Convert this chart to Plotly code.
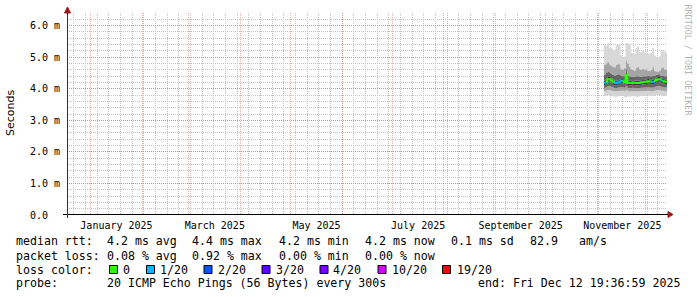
import pandas as pd
import plotly.graph_objects as go

# ---------------- data ----------------
end_time = pd.Timestamp("2025-12-12 19:36:59")
start_time = end_time - pd.Timedelta(days=360)
days = list(pd.date_range("2025-11-05", periods=38, freq="D"))

rtt_max = [5.40, 5.36, 5.44, 5.30, 5.28, 5.24, 5.22, 5.38, 5.40, 5.42, 5.05, 5.00, 5.02, 5.45, 5.44, 5.40, 5.15, 5.12, 5.10,
           5.30, 5.34, 5.18, 5.16, 5.20, 5.15, 5.17, 5.12, 5.10, 5.14, 5.30, 5.05, 5.00, 4.98, 5.02, 5.20, 5.22, 5.18, 5.15]
rtt_p90 = [4.75, 4.80, 4.85, 4.78, 4.72, 4.70, 4.68, 4.75, 4.80, 4.78, 4.62, 4.60, 4.65, 4.90, 4.80, 4.70, 4.62, 4.60, 4.58,
           4.66, 4.70, 4.62, 4.60, 4.64, 4.60, 4.62, 4.58, 4.56, 4.60, 4.68, 4.58, 4.55, 4.55, 4.58, 4.65, 4.68, 4.62, 4.60]
rtt_p75 = [4.45, 4.50, 4.55, 4.52, 4.48, 4.44, 4.42, 4.44, 4.46, 4.46, 4.42, 4.40, 4.40, 4.62, 4.42, 4.40, 4.38, 4.38, 4.37,
           4.40, 4.40, 4.38, 4.38, 4.40, 4.40, 4.40, 4.42, 4.40, 4.40, 4.42, 4.42, 4.44, 4.46, 4.46, 4.42, 4.42, 4.40, 4.40]
rtt_p60 = [4.26, 4.29, 4.37, 4.37, 4.33, 4.29, 4.25, 4.25, 4.27, 4.29, 4.31, 4.30, 4.27, 4.52, 4.26, 4.25, 4.25, 4.27, 4.26,
           4.25, 4.25, 4.26, 4.27, 4.28, 4.29, 4.29, 4.31, 4.30, 4.28, 4.29, 4.32, 4.35, 4.37, 4.37, 4.33, 4.31, 4.30, 4.29]
rtt_med = [4.19, 4.22, 4.30, 4.30, 4.26, 4.22, 4.18, 4.18, 4.20, 4.22, 4.25, 4.24, 4.20, 4.45, 4.19, 4.18, 4.18, 4.20, 4.19,
           4.18, 4.18, 4.19, 4.20, 4.21, 4.22, 4.22, 4.24, 4.23, 4.21, 4.22, 4.25, 4.28, 4.30, 4.30, 4.26, 4.24, 4.23, 4.22]
rtt_p40 = [4.12, 4.15, 4.22, 4.22, 4.19, 4.15, 4.11, 4.11, 4.13, 4.15, 4.18, 4.17, 4.13, 4.30, 4.12, 4.11, 4.11, 4.13, 4.12,
           4.11, 4.11, 4.12, 4.13, 4.14, 4.15, 4.15, 4.17, 4.16, 4.14, 4.15, 4.18, 4.20, 4.22, 4.22, 4.19, 4.17, 4.16, 4.15]
rtt_p25 = [4.03, 4.05, 4.08, 4.08, 4.06, 4.04, 4.02, 4.02, 4.03, 4.04, 4.05, 4.05, 4.03, 4.08, 4.02, 4.02, 4.02, 4.03, 4.02,
           4.02, 4.02, 4.02, 4.03, 4.03, 4.04, 4.04, 4.05, 4.04, 4.03, 4.04, 4.05, 4.07, 4.08, 4.08, 4.06, 4.05, 4.04, 4.04]
rtt_p10 = [3.93, 3.94, 3.96, 3.95, 3.94, 3.93, 3.92, 3.92, 3.93, 3.93, 3.94, 3.94, 3.92, 3.95, 3.92, 3.91, 3.92, 3.92, 3.92,
           3.91, 3.91, 3.92, 3.92, 3.93, 3.93, 3.93, 3.94, 3.93, 3.92, 3.93, 3.94, 3.95, 3.96, 3.95, 3.94, 3.94, 3.93, 3.93]
rtt_min = [3.76, 3.78, 3.80, 3.78, 3.77, 3.76, 3.75, 3.74, 3.76, 3.77, 3.78, 3.78, 3.75, 3.72, 3.76, 3.75, 3.76, 3.77, 3.76,
           3.75, 3.74, 3.76, 3.77, 3.78, 3.77, 3.78, 3.79, 3.78, 3.76, 3.77, 3.78, 3.80, 3.81, 3.80, 3.78, 3.78, 3.77, 3.77]
loss = [1, 0, 0, 0, 0, 0, 1, 1, 1, 1, 1, 0, 0, 0, 0, 0, 0, 0, 0,
        0, 0, 0, 0, 0, 0, 0, 0, 0, 1, 1, 0, 0, 0, 0, 1, 0, 0, 0]

loss_levels = [0, 1, 2, 3, 4, 10, 19]
loss_labels = ["0", "1/20", "2/20", "3/20", "4/20", "10/20", "19/20"]
loss_colors = ["#26ff00", "#00b8ff", "#0059ff", "#5e00ff", "#7e00ff", "#dd00ff", "#ff0000"]

y_ticks = [0, 1, 2, 3, 4, 5, 6]
y_ticktext = ["0.0\u00a0\u00a0", "1.0 m", "2.0 m", "3.0 m", "4.0 m", "5.0 m", "6.0 m"]
month_starts = ["2025-01-01", "2025-02-01", "2025-03-01", "2025-04-01", "2025-05-01", "2025-06-01",
                "2025-07-01", "2025-08-01", "2025-09-01", "2025-10-01", "2025-11-01", "2025-12-01"]
label_dates = ["2025-01-16 12:00", "2025-03-16 12:00", "2025-05-16 12:00",
               "2025-07-16 12:00", "2025-09-16 00:00", "2025-11-16 00:00"]
label_text = ["January 2025", "March 2025", "May 2025", "July 2025", "September 2025", "November 2025"]

rtt_stats = ["4.2 ms avg", "4.4 ms max", "4.2 ms min", "4.2 ms now", "0.1 ms sd", "82.9", "am/s"]
loss_stats = ["0.08 % avg", "0.92 % max", "0.00 % min", "0.00 % now"]
probe_text = "20 ICMP Echo Pings (56 Bytes) every 300s"
end_text = "end: Fri Dec 12 19:36:59 2025"

# ---------------- layout helpers ----------------
W, H = 697, 297
L, R, T, B = 67, 30, 13, 82
PW, PH = W - L - R, H - T - B


def pxx(x):
    return (x - L) / PW


def pxy(y):
    return (T + PH - y) / PH


MONO = "DejaVu Sans Mono"
fig = go.Figure()

xs = days + [end_time]


def ext(a):
    return list(a) + [a[-1]]


bands = [rtt_min, rtt_p10, rtt_p25, rtt_p40, rtt_p60, rtt_p75, rtt_p90, rtt_max]
band_fill = [None, "#d4d4d4", "#a4a4a4", "#666666", "#383838", "#666666", "#a4a4a4", "#d8d8d8"]
for i, (arr, fc) in enumerate(zip(bands, band_fill)):
    fig.add_trace(go.Scatter(x=xs, y=ext(arr), mode="lines", line=dict(width=0, shape="hv"),
                             fill=None if i == 0 else "tonexty", fillcolor=fc,
                             hoverinfo="skip", showlegend=False))

color_of = dict(zip(loss_levels, loss_colors))
med_ext = ext(rtt_med)
n = len(rtt_med)
i = 0
while i < n:
    j = i
    while j + 1 < n and loss[j + 1] == loss[i]:
        j += 1
    fig.add_trace(go.Scatter(x=xs[i:j + 2], y=med_ext[i:j + 2], xaxis="x2", mode="lines",
                             line=dict(color=color_of[loss[i]], width=2, shape="hv"),
                             hoverinfo="skip", showlegend=False))
    i = j + 1

grid_pink = "rgba(220,80,80,0.45)"
grid_gray = "#c4c4c4"
DOT = "1px,1px"

fig.update_layout(
    width=W, height=H, autosize=False,
    margin=dict(l=L, r=R, t=T, b=B, pad=0),
    paper_bgcolor="white", plot_bgcolor="white", showlegend=False,
    font=dict(family=MONO, size=10, color="black"),
    xaxis=dict(type="date", range=[start_time, end_time], tickmode="array", tickvals=month_starts,
               showticklabels=False, showgrid=True, gridcolor=grid_pink, griddash=DOT, gridwidth=1,
               ticks="", zeroline=False, showline=False,
               minor=dict(tick0="2024-12-29", dtick=7 * 86400000, showgrid=True,
                          gridcolor=grid_gray, griddash=DOT, ticks="")),
    xaxis2=dict(type="date", overlaying="x", anchor="y", side="bottom", range=[start_time, end_time],
                tickmode="array", tickvals=label_dates, ticktext=label_text, showgrid=False,
                ticks="", ticklabelstandoff=3, zeroline=False, showline=False,
                tickfont=dict(family=MONO, size=10, color="black")),
    yaxis=dict(range=[0, 6.4], tickmode="array", tickvals=y_ticks, ticktext=y_ticktext,
               showgrid=True, gridcolor=grid_pink, griddash=DOT, gridwidth=1,
               ticks="", ticklabelstandoff=6, zeroline=False, showline=False,
               tickfont=dict(family=MONO, size=10, color="black"),
               minor=dict(tick0=0, dtick=0.2, showgrid=True, gridcolor=grid_gray, griddash=DOT,
                          ticks="")),
)

shapes = []
AX = "#303030"
ARROW = "#9a1a1a"
# axis lines (pixel offsets from the plot's bottom-left corner)
shapes.append(dict(type="path", xref="paper", yref="paper", xsizemode="pixel", ysizemode="pixel",
                   xanchor=0, yanchor=0, path="M -4,0.5 L 601,0.5", line=dict(color="black", width=1)))
shapes.append(dict(type="path", xref="paper", yref="paper", xsizemode="pixel", ysizemode="pixel",
                   xanchor=0, yanchor=0, path="M 0.5,-3 L 0.5,203", line=dict(color=AX, width=1)))
shapes.append(dict(type="path", xref="paper", yref="paper", xsizemode="pixel", ysizemode="pixel",
                   xanchor=0, yanchor=0, path="M -2.5,202 L 3.5,202 L 0.5,208 Z",
                   fillcolor=ARROW, line=dict(color=ARROW, width=1)))
shapes.append(dict(type="path", xref="paper", yref="paper", xsizemode="pixel", ysizemode="pixel",
                   xanchor=0, yanchor=0, path="M 601,3.5 L 601,-2.5 L 606,0.5 Z",
                   fillcolor=ARROW, line=dict(color=ARROW, width=1)))

annotations = []


def text_at(x, y, s, size=11.6, color="black", family=MONO, angle=0, xanchor="left"):
    annotations.append(dict(x=pxx(x), y=pxy(y), xref="paper", yref="paper", text=s, showarrow=False,
                            xanchor=xanchor, yanchor="middle", borderpad=0, borderwidth=0,
                            textangle=angle, font=dict(family=family, size=size, color=color)))


row_y = [241.5, 255.5, 269.5, 283]
text_at(15.5, row_y[0], "median rtt:")
for s, x in zip(rtt_stats, [107, 192.5, 279, 365, 451.5, 530, 579]):
    text_at(x - 0.5, row_y[0], s)
text_at(15.5, row_y[1], "packet loss:")
for s, x in zip(loss_stats, [107, 192.5, 279, 365]):
    text_at(x - 0.5, row_y[1], s)
text_at(15.5, row_y[2], "loss color:")
box_x = [109, 146, 203.5, 261.5, 319.5, 377.5, 442]
lab_x = [123, 160.5, 218, 276, 333.5, 392, 457]
for lbl, col, bx, lx in zip(loss_labels, loss_colors, box_x, lab_x):
    shapes.append(dict(type="rect", xref="paper", yref="paper", xsizemode="pixel", ysizemode="pixel",
                       xanchor=pxx(bx), yanchor=pxy(265), x0=0.5, x1=8.5, y0=-0.5, y1=-8.5,
                       fillcolor=col, line=dict(color="black", width=1)))
    text_at(lx - 0.5, row_y[2], lbl)
text_at(15.5, row_y[3], "probe:")
text_at(106.5, row_y[3], probe_text)
text_at(477.5, row_y[3], end_text)

# y axis title and watermark
text_at(10, 113, "Seconds", size=11, family="DejaVu Sans", angle=-90, xanchor="center")
text_at(687.5, 60, "RRDTOOL / TOBI OETIKER", size=8.4, color="#b4b4b4", angle=90, xanchor="center")

fig.update_layout(shapes=shapes, annotations=annotations)
fig.write_html("out.html")
